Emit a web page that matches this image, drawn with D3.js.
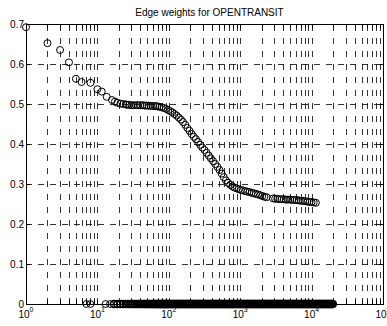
<!DOCTYPE html>
<html>
<head>
<meta charset="utf-8">
<script src="https://cdnjs.cloudflare.com/ajax/libs/d3/7.8.5/d3.min.js"></script>
<style>
    body { margin: 0; background: #fff; }
    text { font-family: Arial, "Liberation Sans", sans-serif; font-size: 10px; fill: #000; }
</style>
</head>
<body>
<svg id="chart"></svg>
<script>
var WIDTH = 387, HEIGHT = 326;
var LEFT = 26, RIGHT = 383, TOP = 24, BOTTOM = 304;
var TITLE = "Edge weights for OPENTRANSIT";

//nonzero edge weights (rank, weight)
var weightX = [1, 2, 3, 4, 5, 6, 8, 10, 11.5, 13.5, 16, 17.6, 19, 21, 23, 25, 26, 28, 30, 32, 35, 37, 40, 43, 46, 49, 52,
    56, 60, 65, 69, 74, 79, 85, 91, 98, 105, 112, 120, 129, 138, 148, 158, 170, 182, 195, 209, 224, 240, 257, 275, 295,
    316, 339, 363, 389, 417, 447, 479, 513, 550, 589, 631, 676, 724, 776, 832, 891, 955, 1023, 1096, 1175, 1259, 1349,
    1445, 1549, 1660, 1778, 1905, 2042, 2188, 2344, 2884, 3090, 3311, 3548, 3802, 4074, 4365, 4677, 5012, 5370, 5754,
    6166, 6607, 7079, 7586, 8128, 8710, 9333, 10000, 10715, 11482];
var weightY = [0.692, 0.652, 0.635, 0.604, 0.563, 0.555, 0.553, 0.537, 0.531, 0.518, 0.510, 0.506, 0.503, 0.501, 0.500,
    0.499, 0.498, 0.498, 0.497, 0.497, 0.497, 0.497, 0.497, 0.497, 0.496, 0.496, 0.496, 0.495, 0.495, 0.495, 0.494,
    0.493, 0.492, 0.490, 0.488, 0.485, 0.482, 0.479, 0.475, 0.471, 0.466, 0.461, 0.455, 0.448, 0.440, 0.433, 0.425,
    0.418, 0.412, 0.405, 0.398, 0.391, 0.385, 0.378, 0.371, 0.364, 0.357, 0.350, 0.343, 0.335, 0.326, 0.317, 0.309,
    0.303, 0.298, 0.294, 0.291, 0.289, 0.287, 0.285, 0.284, 0.282, 0.281, 0.280, 0.278, 0.277, 0.275, 0.274, 0.272,
    0.270, 0.268, 0.267, 0.264, 0.263, 0.263, 0.262, 0.262, 0.262, 0.261, 0.261, 0.261, 0.260, 0.260, 0.260, 0.259,
    0.258, 0.258, 0.257, 0.256, 0.255, 0.255, 0.254, 0.253];

//ranks with zero weight
var zeroX = [7, 8, 13, 15, 17, 19, 21, 23, 25, 27, 29, 31, 33, 35, 37, 39, 41, 43, 45, 47, 49, 51, 53, 55, 57, 59, 61,
    63, 65, 67, 69, 71, 73, 75, 77, 79, 81, 83, 85, 87, 89, 91, 93, 95, 97,
    100, 103, 106, 109, 113, 116, 120, 123, 127, 131, 135, 139, 143, 147, 152, 156, 161, 166, 171, 176, 181, 187, 192,
    198, 204, 210, 216, 223, 229, 236, 243, 251, 258, 266, 274, 282, 291, 299, 308, 318, 327, 337, 347, 358, 368, 379,
    391, 402, 414, 427, 440, 453, 466, 480, 495, 510, 525, 541, 557, 574, 591, 608, 627, 645, 665, 685, 705, 726, 748,
    771, 794, 817, 842, 867, 893, 920, 948, 976, 1005, 1035, 1070, 1100, 1130, 1170, 1200, 1240, 1270, 1310, 1350,
    1390, 1430, 1480, 1520, 1570, 1610, 1660, 1710, 1760, 1820, 1870, 1930, 1980, 2040, 2100, 2170, 2230, 2300, 2370,
    2440, 2510, 2590, 2670, 2750, 2830, 2910, 3000, 3090, 3180, 3280, 3380, 3480, 3580, 3690, 3800, 3910, 4030, 4150,
    4280, 4410, 4540, 4670, 4810, 4960, 5110, 5260, 5420, 5580, 5750, 5920, 6100, 6280, 6470, 6660, 6860, 7070, 7280,
    7500, 7720, 7950, 8190, 8440, 8690, 8950, 9220, 9500, 9780, 10100, 10400, 10700, 11000, 11300, 11700, 12000,
    12400, 12800, 13100, 13500, 13900, 14400, 14800, 15200, 15700, 16200, 16700, 17200, 17700, 18200, 18700, 19300,
    19900];

var xTicks = [1, 10, 100, 1000, 10000, 100000];
var xExps = ["0", "1", "2", "3", "4", "5"];
var yTicks = [0, 0.1, 0.2, 0.3, 0.4, 0.5, 0.6, 0.7];

var x = d3.scaleLog().domain([1, 100000]).range([LEFT, RIGHT]);
var y = d3.scaleLinear().domain([0, 0.7]).range([BOTTOM, TOP]);

var svg = d3.select("#chart")
    .attr("width", WIDTH)
    .attr("height", HEIGHT);

//minor tick positions (2..9 in each decade)
var minor = [];
xTicks.slice(0, -1).forEach(function (d) {
    for (var k = 2; k <= 9; k++) minor.push(d * k);
});

//draw vertical grid
svg.append("g")
    .selectAll("line")
    .data(minor.concat(xTicks.slice(1, -1)))
    .join("line")
    .attr("x1", function (d) { return Math.round(x(d)) + 0.5; })
    .attr("x2", function (d) { return Math.round(x(d)) + 0.5; })
    .attr("y1", BOTTOM)
    .attr("y2", TOP)
    .style("stroke", "#000")
    .style("stroke-width", 0.8)
    .style("stroke-dasharray", "6,7");

//draw horizontal grid
svg.append("g")
    .selectAll("line")
    .data(yTicks.slice(1, -1))
    .join("line")
    .attr("x1", LEFT)
    .attr("x2", RIGHT)
    .attr("y1", function (d) { return Math.round(y(d)) + 0.5; })
    .attr("y2", function (d) { return Math.round(y(d)) + 0.5; })
    .style("stroke", "#000")
    .style("stroke-width", 0.8)
    .style("stroke-dasharray", "6,6");

//draw box
svg.append("rect")
    .attr("x", LEFT + 0.5)
    .attr("y", TOP + 0.5)
    .attr("width", RIGHT - LEFT)
    .attr("height", BOTTOM - TOP)
    .style("fill", "none")
    .style("stroke", "#000")
    .style("stroke-width", 1);

//x ticks top and bottom, inward
var allX = minor.concat(xTicks);
svg.append("g")
    .selectAll("line")
    .data(allX)
    .join("line")
    .attr("x1", function (d) { return Math.round(x(d)) + 0.5; })
    .attr("x2", function (d) { return Math.round(x(d)) + 0.5; })
    .attr("y1", BOTTOM)
    .attr("y2", BOTTOM - 4)
    .style("stroke", "#000");
svg.append("g")
    .selectAll("line")
    .data(allX)
    .join("line")
    .attr("x1", function (d) { return Math.round(x(d)) + 0.5; })
    .attr("x2", function (d) { return Math.round(x(d)) + 0.5; })
    .attr("y1", TOP)
    .attr("y2", TOP + 4)
    .style("stroke", "#000");

//y ticks left and right, inward
svg.append("g")
    .selectAll("line")
    .data(yTicks)
    .join("line")
    .attr("x1", LEFT)
    .attr("x2", LEFT + 4)
    .attr("y1", function (d) { return Math.round(y(d)) + 0.5; })
    .attr("y2", function (d) { return Math.round(y(d)) + 0.5; })
    .style("stroke", "#000");
svg.append("g")
    .selectAll("line")
    .data(yTicks)
    .join("line")
    .attr("x1", RIGHT)
    .attr("x2", RIGHT - 4)
    .attr("y1", function (d) { return Math.round(y(d)) + 0.5; })
    .attr("y2", function (d) { return Math.round(y(d)) + 0.5; })
    .style("stroke", "#000");

//y tick labels
svg.append("g")
    .selectAll("text")
    .data(yTicks)
    .join("text")
    .attr("x", LEFT - 2)
    .attr("y", function (d) { return y(d) + 3.5; })
    .style("text-anchor", "end")
    .text(function (d) { return d === 0 ? "0" : d3.format(".1f")(d); });

//x tick labels with exponents
var xl = svg.append("g")
    .selectAll("text")
    .data(xTicks)
    .join("text")
    .attr("x", function (d) { return x(d); })
    .attr("y", 318)
    .style("text-anchor", "middle");
xl.append("tspan").text("10");
xl.append("tspan")
    .attr("dy", -6)
    .style("font-size", "7px")
    .text(function (d, i) { return xExps[i]; });

//title
svg.append("text")
    .attr("x", (LEFT + RIGHT) / 2 + 5)
    .attr("y", 16)
    .style("text-anchor", "middle")
    .text(TITLE);

//draw data circles
var pts = svg.append("g");
pts.selectAll("circle.zero")
    .data(zeroX)
    .join("circle")
    .attr("class", "zero")
    .attr("cx", function (d) { return x(d); })
    .attr("cy", y(0))
    .attr("r", 3.4)
    .style("fill", "none")
    .style("stroke", "#000")
    .style("stroke-width", function (d) { return d < 16 ? 1 : 1.6; });
pts.selectAll("circle.w")
    .data(weightX)
    .join("circle")
    .attr("class", "w")
    .attr("cx", function (d) { return x(d); })
    .attr("cy", function (d, i) { return y(weightY[i]); })
    .attr("r", 3.5)
    .style("fill", "none")
    .style("stroke", "#000")
    .style("stroke-width", 1);
</script>
</body>
</html>
